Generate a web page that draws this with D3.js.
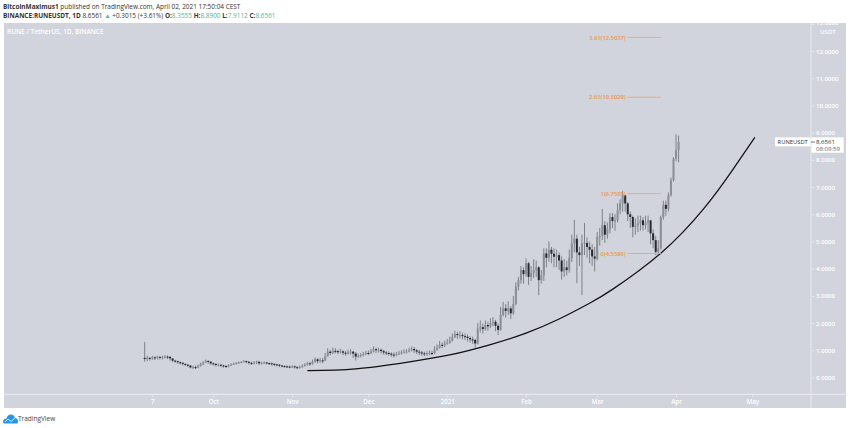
<!DOCTYPE html>
<html>
<head>
<meta charset="utf-8">
<script src="https://cdn.jsdelivr.net/npm/d3@7"></script>
<style>
  html, body { margin: 0; padding: 0; background: #fff; }
  svg { display: block; font-family: "Open Sans", sans-serif; }
</style>
</head>
<body>
<svg id="chart" width="850" height="428"></svg>
<script>
//data
const FIRST_DAY = '2020-09-04';
const firstOpen = 0.72;
const closes = [
  .68,.72,.70,.74,.72,.76,.73,.75,.77,.76,
  .70,.62,.60,.56,.54,.50,.47,.44,.37,.38,
  .37,.42,.48,.55,.61,.58,.52,.50,.46,.47,
  .44,.42,.40,.44,.48,.51,.53,.55,.57,.60,
  .58,.54,.52,.55,.58,.52,.54,.55,.53,.52,
  .50,.48,.47,.44,.42,.41,.40,.39,.41,.38,
  .36,.38,.42,.47,.52,.50,.58,.67,.60,.63,
  .62,.78,.95,.90,.98,.97,.93,.96,.91,.88,
  .93,.95,.88,.77,.80,.82,.86,.90,.89,.96,
  1.04,1.00,1.02,.97,.92,.90,.88,.84,.83,.86,
  .89,.92,.95,.95,1.00,1.05,1.00,.95,.92,.89,
  .86,.88,.90,.89,1.02,1.10,1.20,1.18,1.25,1.28,
  1.35,1.48,1.60,1.56,1.56,1.52,1.50,1.45,1.40,1.38,
  1.25,1.80,1.85,1.78,1.93,1.88,2.00,2.05,1.90,1.75,
  2.30,2.54,2.45,2.54,2.36,2.70,3.34,3.58,3.95,3.80,
  4.20,3.70,3.85,3.95,4.05,3.58,3.75,4.56,4.40,4.70,
  4.55,4.44,4.50,4.30,3.90,4.05,3.95,4.40,4.93,5.10,
  4.60,4.50,4.93,4.95,4.80,4.70,4.45,4.37,5.17,5.20,
  5.60,5.25,5.45,5.90,5.75,5.78,6.15,6.40,6.70,6.40,
  6.00,5.90,5.54,5.60,5.66,5.78,5.60,5.70,5.78,5.30,
  5.05,4.62,4.75,5.90,6.35,6.20,6.70,7.25,8.05,8.3555,8.6561
];
const highs = [
  1.30,.80,.76,.80,.78,.80,.78,.80,.82,.81,
  .78,.70,.65,.62,.59,.56,.52,.49,.46,.43,
  .44,.48,.54,.60,.66,.63,.60,.55,.52,.51,
  .50,.47,.46,.49,.52,.55,.57,.59,.61,.64,
  .63,.60,.58,.60,.62,.60,.58,.59,.58,.56,
  .55,.53,.51,.49,.47,.45,.44,.44,.45,.44,
  .42,.44,.48,.53,.58,.58,.66,.74,.70,.72,
  .72,.90,1.08,1.02,1.10,1.08,1.02,1.06,1.00,.98,
  1.02,1.04,.98,.94,.88,.90,.94,.98,.99,1.06,
  1.15,1.10,1.10,1.06,1.02,.98,.96,.93,.92,.94,
  .98,1.00,1.04,1.04,1.10,1.14,1.12,1.05,1.02,.98,
  .95,.96,1.00,.98,1.15,1.22,1.34,1.30,1.36,1.42,
  1.50,1.62,1.72,1.68,1.70,1.65,1.62,1.58,1.52,1.50,
  1.42,2.00,2.10,1.98,2.10,2.05,2.18,2.22,2.12,1.98,
  2.60,2.78,2.70,2.80,2.62,3.00,3.50,3.70,4.10,4.05,
  4.38,4.25,4.10,4.35,4.30,4.10,3.95,4.75,4.75,5.00,
  4.80,4.75,4.70,4.60,4.45,4.35,4.30,4.70,5.25,5.80,
  5.25,4.80,5.25,5.68,5.15,5.00,4.90,4.80,5.35,5.50,
  6.20,5.75,5.70,6.05,6.05,6.00,6.40,6.55,6.85,6.70,
  6.45,6.10,5.95,5.85,5.95,5.95,5.90,5.95,5.95,5.75,
  5.45,5.20,5.05,5.95,6.50,6.50,6.80,7.35,8.10,8.94,8.89
];
const lows = [
  .58,.60,.62,.64,.64,.66,.66,.66,.70,.68,
  .62,.56,.54,.50,.48,.44,.42,.38,.33,.32,
  .31,.34,.40,.46,.54,.50,.46,.44,.40,.41,
  .38,.36,.35,.37,.42,.46,.48,.50,.52,.55,
  .52,.48,.46,.48,.50,.46,.48,.50,.48,.46,
  .44,.42,.41,.38,.37,.36,.35,.34,.35,.33,
  .31,.33,.36,.40,.44,.43,.47,.54,.52,.54,
  .52,.60,.76,.82,.86,.88,.86,.88,.82,.80,
  .84,.84,.72,.62,.72,.74,.78,.82,.82,.86,
  .92,.90,.92,.88,.84,.82,.80,.76,.74,.78,
  .82,.84,.88,.88,.92,.96,.90,.86,.82,.80,
  .78,.80,.82,.82,.86,.98,1.06,1.08,1.12,1.20,
  1.24,1.32,1.45,1.42,1.44,1.40,1.38,1.32,1.28,1.24,
  1.10,1.22,1.65,1.62,1.72,1.72,1.82,1.88,1.70,1.56,
  1.72,2.25,2.20,2.30,2.15,2.30,2.65,3.20,3.45,3.45,
  3.70,3.40,3.55,3.65,3.70,3.03,3.45,3.55,4.05,4.25,
  4.20,4.05,4.05,3.95,3.60,3.70,3.75,3.85,4.25,4.60,
  3.47,4.10,3.03,4.50,4.40,4.20,4.10,3.90,4.30,4.85,
  5.05,4.95,5.10,5.30,5.50,5.40,5.70,6.00,6.10,6.10,
  5.75,5.50,5.15,5.25,5.35,5.40,5.40,5.45,5.35,4.90,
  4.75,4.50,4.50,4.70,5.80,5.95,6.10,6.65,7.20,7.95,7.9112
];

// hand drawn curve under the price
const curveDates = ['2020-11-07','2020-11-26','2020-12-16','2021-01-02','2021-01-18','2021-02-01','2021-02-14','2021-02-26','2021-03-07','2021-03-26','2021-04-12','2021-04-23','2021-05-02'];
const curveValues = [.25,.32,.56,.83,1.21,1.63,2.15,2.73,3.24,4.57,6.22,7.60,8.83];

// fib levels
const fibLabels = ['3.61(12.5037)','2.61(10.3029)','1(6.7595)','0(4.5586)'];
const fibValues = [12.5037,10.3029,6.7595,4.5586];
const fibFrom = '2021-03-13';
const fibTo = '2021-03-26';

const priceTicks = [0,1,2,3,4,5,6,7,8,9,10,11,12,13];
const timeTickDates = ['2020-09-07','2020-10-01','2020-11-01','2020-12-01','2021-01-01','2021-02-01','2021-03-01','2021-04-01','2021-05-01'];
const timeTickLabels = ['7','Oct','Nov','Dec','2021','Feb','Mar','Apr','May'];
const lastPrice = 8.6561;

//colors
const PANEL = '#d1d4dc';
const AXIS_LINE = '#e6e8ec';
const AXIS_TEXT = '#fff';
const ORANGE = '#f2933f';
const ORANGE_LINE = '#f0a878';
const TEAL = '#53b987';

//scales
const parseDay = d3.utcParse('%Y-%m-%d');
const x = d3.scaleUtc()
  .domain([parseDay('2020-09-07'), parseDay('2021-05-01')])
  .range([152.3, 752.3]);
const y = d3.scaleLinear().domain([0, 13]).range([377.5, 23.9]);

const svg = d3.select('#chart');

//header
const header = svg.append('text').attr('x', 3).attr('y', 8.8).attr('font-size', 6.45).attr('fill', '#333');
header.append('tspan').attr('font-weight', 700).text('BitcoinMaximus1');
header.append('tspan').text(' published on TradingView.com, April 02, 2021 17:50:04 CEST');

const quote = svg.append('text').attr('x', 3).attr('y', 17.8).attr('font-size', 6.45).attr('fill', '#333');
quote.append('tspan').attr('font-weight', 700).text('BINANCE:RUNEUSDT, 1D');
quote.append('tspan').text('  8.6561 ');
quote.append('tspan').attr('fill', TEAL).text('▲');
quote.append('tspan').text(' +0.3015 (+3.61%) ');
[['O:', '8.3555'], ['H:', '8.8900'], ['L:', '7.9112'], ['C:', '8.6561']].forEach(([k, v]) => {
  quote.append('tspan').attr('font-weight', 700).text(k);
  quote.append('tspan').attr('fill', TEAL).text(v + ' ');
});

//panel
svg.append('rect').attr('x', 4).attr('y', 23).attr('width', 842).attr('height', 385).attr('fill', PANEL);

svg.append('text').attr('x', 7).attr('y', 33.8).attr('font-size', 6.5).attr('font-weight', 600).attr('fill', AXIS_TEXT)
  .text('RUNE / TetherUS, 1D, BINANCE');

//candles
const day0 = parseDay(FIRST_DAY);
const candles = closes.map((c, i) => ({
  date: d3.utcDay.offset(day0, i),
  open: i === 0 ? firstOpen : closes[i - 1],
  close: c,
  high: highs[i],
  low: lows[i]
}));

const candleG = svg.append('g');
candleG.selectAll('.wick')
  .data(candles)
  .join('line')
  .attr('class', 'wick')
  .attr('x1', d => x(d.date))
  .attr('x2', d => x(d.date))
  .attr('y1', d => y(d.high))
  .attr('y2', d => y(d.low))
  .attr('stroke', '#7e8189')
  .attr('stroke-width', 1);

candleG.selectAll('.body')
  .data(candles)
  .join('rect')
  .attr('class', 'body')
  .attr('x', d => x(d.date) - 1)
  .attr('width', 2)
  .attr('y', d => y(Math.max(d.open, d.close)))
  .attr('height', d => Math.max(1, Math.abs(y(d.open) - y(d.close))))
  .attr('fill', d => d.close >= d.open ? '#8b8e96' : '#26282e');

//curve
const curvePoints = curveDates.map((d, i) => [parseDay(d), curveValues[i]]);
svg.append('path')
  .datum(curvePoints)
  .attr('fill', 'none')
  .attr('stroke', '#111')
  .attr('stroke-width', 1.25)
  .attr('d', d3.line().x(d => x(d[0])).y(d => y(d[1])).curve(d3.curveNatural));

//fib
const fibG = svg.append('g');
fibG.selectAll('line')
  .data(fibValues)
  .join('line')
  .attr('x1', x(parseDay(fibFrom)))
  .attr('x2', x(parseDay(fibTo)))
  .attr('y1', d => y(d))
  .attr('y2', d => y(d))
  .attr('stroke', ORANGE_LINE)
  .attr('stroke-width', 1);
fibG.selectAll('text')
  .data(fibLabels)
  .join('text')
  .attr('x', x(parseDay(fibFrom)) - 2)
  .attr('y', (d, i) => y(fibValues[i]) + 2.2)
  .attr('text-anchor', 'end')
  .attr('font-size', 5.8)
  .attr('font-weight', 600)
  .attr('fill', ORANGE)
  .text(d => d);

//axes
const priceAxis = svg.append('g')
  .attr('transform', 'translate(811,0)')
  .call(d3.axisRight(y).tickValues(priceTicks).tickFormat(d3.format('.4f')).tickSize(3).tickPadding(2));
priceAxis.selectAll('text').attr('fill', AXIS_TEXT).attr('font-size', 6.1).attr('font-weight', 600).attr('font-family', '"Open Sans", sans-serif');
priceAxis.selectAll('line').attr('stroke', AXIS_LINE);
priceAxis.select('.domain').remove();
priceAxis.selectAll('.tick').filter(d => d === 13).select('text').attr('dy', '0.15em');

svg.append('line').attr('x1', 811).attr('x2', 811).attr('y1', 23).attr('y2', 408).attr('stroke', AXIS_LINE).attr('stroke-width', 1.2);
svg.append('line').attr('x1', 4).attr('x2', 846).attr('y1', 394.3).attr('y2', 394.3).attr('stroke', AXIS_LINE).attr('stroke-width', 1.2);

// top label is cut by the panel edge
svg.append('rect').attr('x', 811.6).attr('y', 14).attr('width', 34).attr('height', 9).attr('fill', '#fff');
svg.append('text').attr('x', 828).attr('y', 33.8).attr('text-anchor', 'middle').attr('font-size', 6.1).attr('font-weight', 600).attr('fill', AXIS_TEXT).text('USDT');

const timeAxis = svg.append('g')
  .attr('transform', 'translate(0,394.3)')
  .call(d3.axisBottom(x)
    .tickValues(timeTickDates.map(parseDay))
    .tickFormat((d, i) => timeTickLabels[i])
    .tickSize(3).tickPadding(2));
timeAxis.selectAll('text').attr('fill', AXIS_TEXT).attr('font-size', 6.2).attr('font-weight', 600).attr('font-family', '"Open Sans", sans-serif');
timeAxis.selectAll('line').attr('stroke', AXIS_LINE);
timeAxis.select('.domain').remove();

//last price tag
const tagY = y(lastPrice);
svg.append('rect').attr('x', 775).attr('y', tagY - 4.7).attr('width', 35.5).attr('height', 9).attr('fill', '#fff');
svg.append('text').attr('x', 792.7).attr('y', tagY + 2).attr('text-anchor', 'middle').attr('font-size', 5.8).attr('fill', '#333').text('RUNEUSDT');
svg.append('rect').attr('x', 811.5).attr('y', tagY - 4.7).attr('width', 32.2).attr('height', 15.4).attr('fill', '#fff');
svg.append('line').attr('x1', 811).attr('x2', 815).attr('y1', tagY).attr('y2', tagY).attr('stroke', '#555').attr('stroke-width', 0.8);
svg.append('text').attr('x', 816).attr('y', tagY + 2).attr('font-size', 6.1).attr('fill', '#333').text(d3.format('.4f')(lastPrice));
svg.append('text').attr('x', 816).attr('y', tagY + 9.3).attr('font-size', 6.05).attr('fill', '#666').text('08:09:59');

//logo
const logo = svg.append('g').attr('transform', 'translate(3,414)');
logo.append('path')
  .attr('d', 'M0 8 C0 5.5 2 4.5 3.5 4.5 C4 2 6 0.5 8 0.5 C10 0.5 11.5 2 12 4 C14 4 15 6 15 8 C15 9 14 9.5 13 9.5 L2 9.5 C1 9.5 0 9 0 8 Z')
  .attr('fill', '#2196f3');
logo.append('path')
  .attr('d', 'M2 8 L5 5 L8 7.5 L12 4')
  .attr('fill', 'none').attr('stroke', '#fff').attr('stroke-width', 0.9);
svg.append('text').attr('x', 18).attr('y', 420.5).attr('font-size', 6.5).attr('fill', '#444').text('TradingView');
</script>
</body>
</html>
